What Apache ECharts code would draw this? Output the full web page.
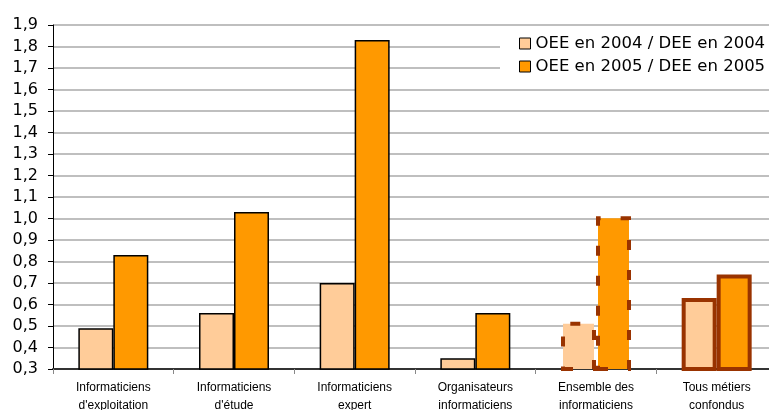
<!DOCTYPE html>
<html lang="fr">
<head>
    <meta charset="UTF-8">
    <title>OEE / DEE par métier</title>
    <script src="https://cdn.jsdelivr.net/npm/echarts@6/dist/echarts.min.js"></script>
    <style>
        html, body { margin: 0; padding: 0; background: #fff; }
    </style>
</head>
<body>
    <div id="main" style="width: 769px;height:410px;"></div>
    <script type="text/javascript">
        var categories = [
            "Informaticiens\nd'exploitation",
            "Informaticiens\nd'étude",
            "Informaticiens\nexpert",
            "Organisateurs\ninformaticiens",
            "Ensemble des\ninformaticiens",
            "Tous métiers\nconfondus"
        ];
        var seriesNames = ['OEE en 2004 / DEE en 2004', 'OEE en 2005 / DEE en 2005'];
        var values2004 = [0.49, 0.56, 0.70, 0.35, 0.52, 0.63];
        var values2005 = [0.83, 1.03, 1.83, 0.56, 1.01, 0.74];

        var myChart = echarts.init(document.getElementById('main'));

        // bordure spéciale pour les deux derniers groupes
        function styled(values, color) {
            return values.map(function (v, i) {
                if (i === 4) {
                    return { value: v, itemStyle: { color: color, borderColor: '#993300', borderWidth: 4, borderType: [10, 20] } };
                }
                if (i === 5) {
                    return { value: v, itemStyle: { color: color, borderColor: '#993300', borderWidth: 4 } };
                }
                return v;
            });
        }

        var option = {
            animation: false,
            textStyle: { fontFamily: 'DejaVu Sans' },
            // le graphique dépasse un peu à droite
            grid: { left: 53, width: 724, top: 25, bottom: 41, outerBoundsMode: 'none', containLabel: false },
            legend: {
                left: 500,
                top: 31,
                orient: 'vertical',
                icon: 'rect',
                itemWidth: 11,
                itemHeight: 11,
                itemGap: 6,
                backgroundColor: '#fff',
                padding: [4, 20, 6, 19],
                textStyle: { fontSize: 16.5, color: '#000', fontFamily: 'DejaVu Sans' },
                data: [
                    { name: seriesNames[0], itemStyle: { color: '#FFCC99', borderColor: '#000', borderWidth: 1 } },
                    { name: seriesNames[1], itemStyle: { color: '#FF9900', borderColor: '#000', borderWidth: 1 } }
                ]
            },
            xAxis: {
                type: 'category',
                data: categories,
                axisLine: { lineStyle: { color: '#333', width: 2 } },
                axisTick: { show: true, length: 5, lineStyle: { color: '#888' } },
                axisLabel: {
                    interval: 0,
                    margin: 10,
                    lineHeight: 18,
                    fontSize: 12,
                    color: '#000',
                    fontFamily: 'Liberation Sans'
                }
            },
            yAxis: {
                type: 'value',
                min: 0.3,
                max: 1.9,
                interval: 0.1,
                axisLine: { show: true, lineStyle: { color: '#000', width: 1 } },
                axisTick: { show: true, length: 5, lineStyle: { color: '#000' } },
                splitLine: { lineStyle: { color: '#aaa', width: 1.5 } },
                axisLabel: {
                    margin: 15,
                    fontSize: 16,
                    color: '#000',
                    formatter: function (v) { return v.toFixed(1).replace('.', ','); }
                }
            },
            series: [
                {
                    name: seriesNames[0],
                    type: 'bar',
                    barGap: 0,
                    barCategoryGap: '42%',
                    itemStyle: { color: '#FFCC99', borderColor: '#000', borderWidth: 1.5 },
                    data: styled(values2004, '#FFCC99')
                },
                {
                    name: seriesNames[1],
                    type: 'bar',
                    barGap: 0,
                    barCategoryGap: '42%',
                    itemStyle: { color: '#FF9900', borderColor: '#000', borderWidth: 1.5 },
                    data: styled(values2005, '#FF9900')
                }
            ]
        };

        myChart.setOption(option);
    </script>
</body>
</html>
